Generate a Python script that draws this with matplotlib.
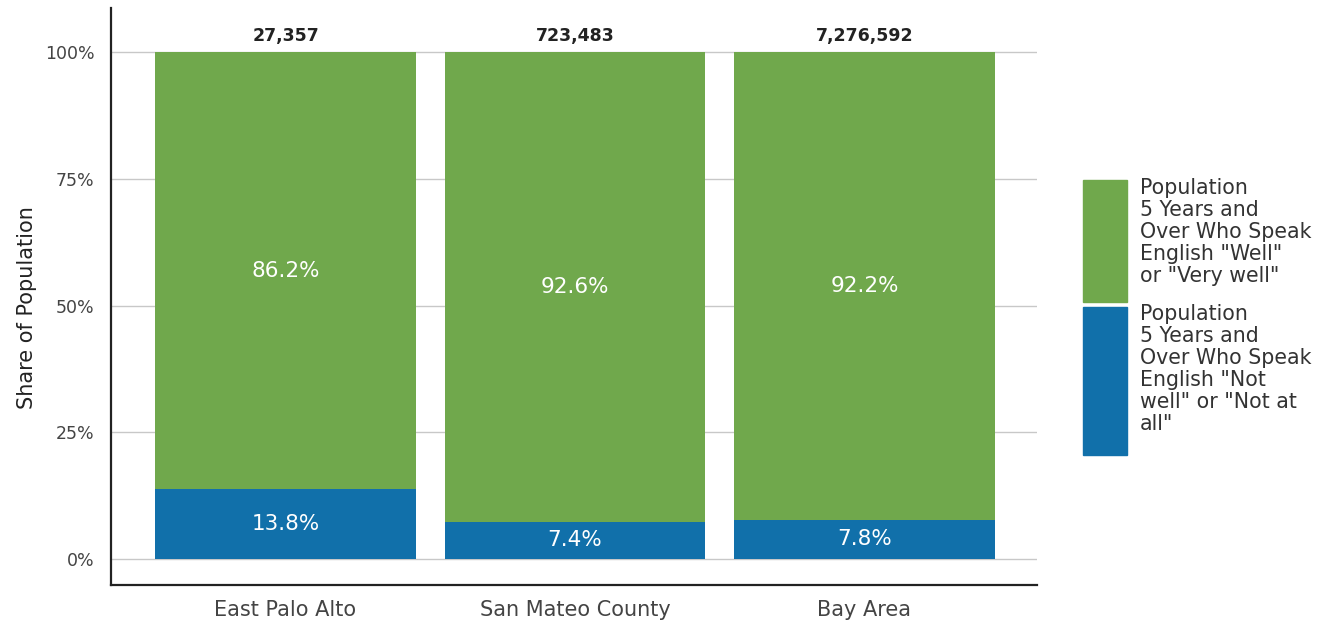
import matplotlib
matplotlib.use("Agg")
import matplotlib.pyplot as plt
from matplotlib.patches import Rectangle

categories = ["East Palo Alto", "San Mateo County", "Bay Area"]
totals = ["27,357", "723,483", "7,276,592"]
not_well = [13.8, 7.4, 7.8]
well = [86.2, 92.6, 92.2]
yticks = [0, 25, 50, 75, 100]
ytick_labels = ["0%", "25%", "50%", "75%", "100%"]
legend_labels = [
    'Population\n5 Years and\nOver Who Speak\nEnglish "Well"\nor "Very well"',
    'Population\n5 Years and\nOver Who Speak\nEnglish "Not\nwell" or "Not at\nall"',
]

GREEN = "#70a84c"
BLUE = "#1170aa"

plt.rcParams['font.family'] = ['DejaVu Sans']

fig = plt.figure(figsize=(13.33, 6.26), dpi=100)
ax = fig.add_axes([111/1333, 1-585/626, (1037-111)/1333, (585-8)/626])

x = list(range(len(categories)))
ax.bar(x, not_well, width=0.9, color=BLUE, zorder=2)
ax.bar(x, well, width=0.9, bottom=not_well, color=GREEN, zorder=2)

for i in x:
    ax.text(i, not_well[i] / 2, f"{not_well[i]:.1f}%", ha="center", va="center",
            color="white", fontsize=15.5, zorder=3)
    ax.text(i, not_well[i] + well[i] / 2, f"{well[i]:.1f}%", ha="center", va="center",
            color="white", fontsize=15.5, zorder=3)
    ax.text(i, 101.5, totals[i], ha="center", va="bottom", color="#222222",
            fontsize=12.5, fontweight="semibold", zorder=3)

ax.set_xlim(-0.603, 2.596)
ax.set_ylim(-5.1, 108.7)
ax.set_yticks(yticks)
ax.set_yticklabels(ytick_labels)
ax.set_xticks(x)
ax.set_xticklabels(categories)
ax.tick_params(axis="both", length=0, colors="#444444")
ax.tick_params(axis="x", pad=11, labelsize=15)
ax.tick_params(axis="y", pad=12, labelsize=12.5)
ax.yaxis.grid(True, color="#c8c8c8", linewidth=1, zorder=0)
ax.set_axisbelow(True)
for s in ["top", "right"]:
    ax.spines[s].set_visible(False)
for s in ["left", "bottom"]:
    ax.spines[s].set_color("#222222")
    ax.spines[s].set_linewidth(1.6)
ax.set_ylabel("Share of Population", fontsize=15, color="#222222")
ax.yaxis.set_label_coords(-0.080, 0.481)

# Legend (manual)
W, H = 1333, 626
fig.add_artist(Rectangle((1083/W, 1-302/H), 44/W, 122/H, transform=fig.transFigure,
                         color=GREEN))
fig.add_artist(Rectangle((1083/W, 1-455/H), 44/W, 148/H, transform=fig.transFigure,
                         color=BLUE))
fig.text(1140/W, 1-178/H, legend_labels[0], ha="left", va="top", fontsize=14.8,
         color="#333333", linespacing=1.13)
fig.text(1140/W, 1-304/H, legend_labels[1], ha="left", va="top", fontsize=14.8,
         color="#333333", linespacing=1.13)

fig.savefig("out.png", dpi=100)
